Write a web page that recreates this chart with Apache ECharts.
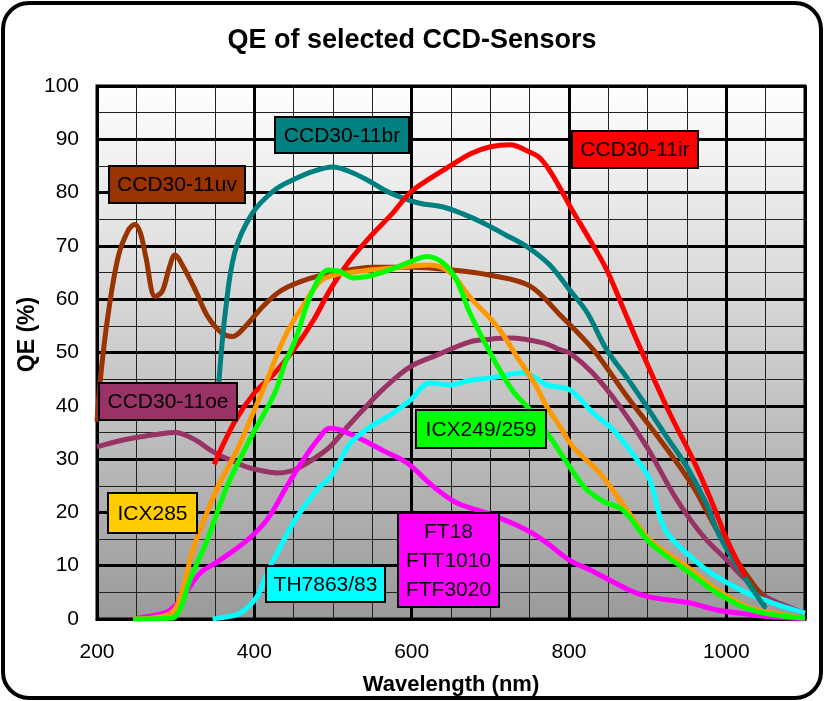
<!DOCTYPE html>
<html>
<head>
<meta charset="utf-8">
<script src="https://cdn.jsdelivr.net/npm/echarts@6/dist/echarts.min.js"></script>
<style>
html,body{margin:0;padding:0;background:#fff;}
#chart{width:824px;height:701px;}
</style>
</head>
<body>
<div id="chart"></div>
<script>
// ---- data (wavelength in nm, QE in %) ----
var chartTitle = 'QE of selected CCD-Sensors';
var xName = 'Wavelength (nm)';
var yName = 'QE (%)';

var uvNm = [200,205,214,227,240,248,255,262,274,283,292,299,310,325,341,359,372,388,410,435,473,503,550,600,650,700,750,789,831,874,916,958,988,1020,1052];
var uvQE = [37,46,57,68,73,74,72.5,68,60.5,61.5,66,68.3,66,61.7,56.7,53.6,53,54.8,58.5,61.7,64,65,66,66,65.5,64.5,62.5,57,50.5,41.7,33.6,24.8,16.7,9.5,3];

var brNm = [355,363,375,397,426,452,475,500,520,543,565,585,610,640,665,691,720,747,775,801,823,848,875,899,925,950,975,992,1020,1050];
var brQE = [44.5,57.4,68.7,76,80.5,82.6,84,84.8,84,82.4,80.5,79.2,78,77.3,76,74.3,72,69.8,66.5,61.7,57.5,50.5,45,39.8,34,28.5,21.5,15.4,8.5,2];

var irNm = [349,375,400,425,450,475,496,520,547,575,598,625,649,675,700,725,750,763,776,790,801,827,848,874,899,928,958,980,1001,1024];
var irQE = [29,37,42.4,46,50.5,56,61.7,67,71.7,76,80,82.8,85,87.3,88.6,89,87.6,86.5,84,80.5,77.5,71,65.5,56.5,48,38.6,29.8,22.5,14.8,7.9];

var oeNm = [200,225,248,275,299,325,344,359,375,391,410,429,445,458,475,496,515,538,565,598,632,674,700,725,767,789,801,831,865,899,932,955,975,1001,1021,1052,1075,1100];
var oeQE = [32.3,33.3,34,34.6,35,33.6,31.7,30.5,29.5,28.5,27.8,27.4,27.7,28.5,30,32.3,35.5,39.2,43.3,47.3,49.5,52,52.5,52.7,51.8,50.5,49.9,46,39.8,32.3,23.6,18.5,14.8,11,7.9,4,2.5,1];

var icx285Nm = [246,270,293,305,322,340,356,378,398,416,430,443,461,486,522,572,623,649,674,709,734,755,772,789,805,839,874,903,950,983,1026,1059,1100];
var icx285QE = [0,0.2,1,3.6,13,20,25.5,31.7,38.5,44.8,50,54.2,58.5,63.6,65,65.8,66.4,65,60.4,54.8,49.2,44.5,39.8,36,32.3,27.4,20.4,14.8,9.8,6,2.3,1.1,0.2];

var icx249Nm = [246,296,306,318,340,365,394,426,439,452,473,494,509,526,550,572,598,619,640,657,674,696,712,730,747,776,801,823,845,869,903,954,988,1026,1060,1100];
var icx249QE = [0,0.2,2,7.3,14.8,24.8,33.6,42.4,48,52.3,61.2,65.5,65.2,64,64.5,65.5,67,68,66.8,63.6,57.4,51,46.7,42.5,39.8,34.1,28.5,24.2,22,20.4,14.3,8.6,4.9,2,0.8,0.2];

var thNm = [347,365,382,403,416,433,454,483,496,510,522,547,575,598,623,649,674,700,742,760,772,801,831,856,887,903,916,925,941,975,1001,1026,1059,1100];
var thQE = [0,0.4,1.1,4.1,8.6,13.5,19.1,24.8,26.5,30,33,36,38.5,41,44.3,43.9,44.8,45.2,46.2,45,43.9,43,38.6,35.5,29.8,26,19,16.1,13.5,9.2,6.8,4.9,3,1.1];

var ftNm = [251,276,293,309,331,356,391,416,441,462,480,496,509,538,565,594,628,657,695,738,767,801,827,877,903,954,988,1017,1059,1100];
var ftQE = [0.2,0.75,1.7,4.1,8.6,11,14.8,18.6,24.8,29.8,33.5,35.8,35.5,33.6,31.5,29.3,24.8,21.8,19.9,17.3,14.8,11,9.2,5.4,4.1,3,1.7,1.1,0.4,0];

var seriesNames = ['CCD30-11oe','CCD30-11uv','FT18\nFTT1010\nFTF3020','TH7863/83','CCD30-11br','CCD30-11ir','ICX285','ICX249/259'];
var seriesX = [oeNm, uvNm, ftNm, thNm, brNm, irNm, icx285Nm, icx249Nm];
var seriesY = [oeQE, uvQE, ftQE, thQE, brQE, irQE, icx285QE, icx249QE];

// ---- styles / layout ----
var lineColors = ['#993366','#993300','#ff00ff','#00ffff','#008080','#ff0000','#ff9900','#00ff00'];
var boxColors  = ['#993366','#993300','#ff00ff','#00ffff','#008080','#ff0000','#ffcc00','#00ff00'];
var boxRects = [
  [99,383,138,37],
  [109,166,136,37],
  [398,513,101,94],
  [266,566,119,36],
  [275,117,134,36],
  [572,131,126,37],
  [108,493,89,40],
  [416,410,130,38]
];
var FONT = '"Liberation Sans", Arial, Helvetica, sans-serif';

var chart = echarts.init(document.getElementById('chart'));

function pairs(xs, ys){ var o=[]; for (var i=0;i<xs.length;i++) o.push([xs[i], ys[i]]); return o; }

var series = [];
for (var i=0;i<seriesNames.length;i++){
  series.push({
    name: seriesNames[i],
    type: 'line',
    xAxisIndex: 1,
    data: pairs(seriesX[i], seriesY[i]),
    smooth: 0.35,
    showSymbol: false,
    symbol: 'none',
    lineStyle: {color: lineColors[i], width: 5},
    z: 3 + i
  });
}

var graphics = [{
  type: 'rect', silent: true, z: -10,
  shape: {x: 3, y: 3, width: 818, height: 695, r: 26},
  style: {fill: 'none', stroke: '#000', lineWidth: 4}
}];
for (var j=0;j<seriesNames.length;j++){
  var r = boxRects[j];
  graphics.push({
    type: 'rect', z: 100, zlevel: 0,
    shape: {x: r[0], y: r[1], width: r[2], height: r[3]},
    style: {fill: boxColors[j], stroke: '#000', lineWidth: 2}
  });
  graphics.push({
    type: 'text', z: 101, zlevel: 0,
    x: r[0] + r[2]/2, y: r[1] + r[3]/2 + 1,
    style: {text: seriesNames[j], fill: '#000', fontSize: 21, fontFamily: FONT,
            align: 'center', verticalAlign: 'middle', lineHeight: 29}
  });
}

var option = {
  animation: false,
  backgroundColor: '#ffffff',
  title: {
    text: chartTitle, left: 'center', top: 22,
    textStyle: {fontSize: 27, fontWeight: 'bold', color: '#000', fontFamily: FONT}
  },
  grid: {
    left: 97, right: 19, top: 86, bottom: 82, show: true,
    backgroundColor: new echarts.graphic.LinearGradient(0,0,0,1,[
      {offset: 0, color: '#ffffff'}, {offset: 1, color: '#9a9a9a'}]),
    borderColor: '#000', borderWidth: 3
  },
  xAxis: [{
    type: 'value', min: 200, max: 1100, interval: 50, position: 'top',
    axisLabel: {show: false}, axisLine: {show: false}, axisTick: {show: false},
    splitLine: {show: true, lineStyle: {color: '#222', width: 1}}
  }, {
    type: 'value', min: 200, max: 1100, interval: 200, position: 'bottom',
    name: xName, nameLocation: 'middle', nameGap: 55,
    nameTextStyle: {fontSize: 22, fontWeight: 'bold', color: '#000', fontFamily: FONT},
    axisLabel: {fontSize: 21, color: '#000', margin: 23, fontFamily: FONT, showMaxLabel: false,
                formatter: function(v){ return v >= 1100 ? '' : String(v); }},
    axisLine: {show: true, lineStyle: {color: '#000', width: 3}},
    axisTick: {show: false},
    splitLine: {show: true, lineStyle: {color: '#000', width: 3}}
  }],
  yAxis: {
    type: 'value', min: 0, max: 100, interval: 10,
    name: yName, nameLocation: 'middle', nameGap: 58, nameMoveOverlap: false,
    nameTextStyle: {fontSize: 23, fontWeight: 'bold', color: '#000', fontFamily: FONT,
                    padding: [0, 0, 0, 36]},
    axisLabel: {fontSize: 21, color: '#000', margin: 18, fontFamily: FONT},
    axisLine: {show: true, lineStyle: {color: '#000', width: 3}},
    axisTick: {show: false},
    minorTick: {show: false, splitNumber: 2},
    splitLine: {show: true, lineStyle: {color: '#000', width: 3}},
    minorSplitLine: {show: true, lineStyle: {color: '#222', width: 1}}
  },
  series: series,
  graphic: graphics
};
chart.setOption(option);
</script>
</body>
</html>
